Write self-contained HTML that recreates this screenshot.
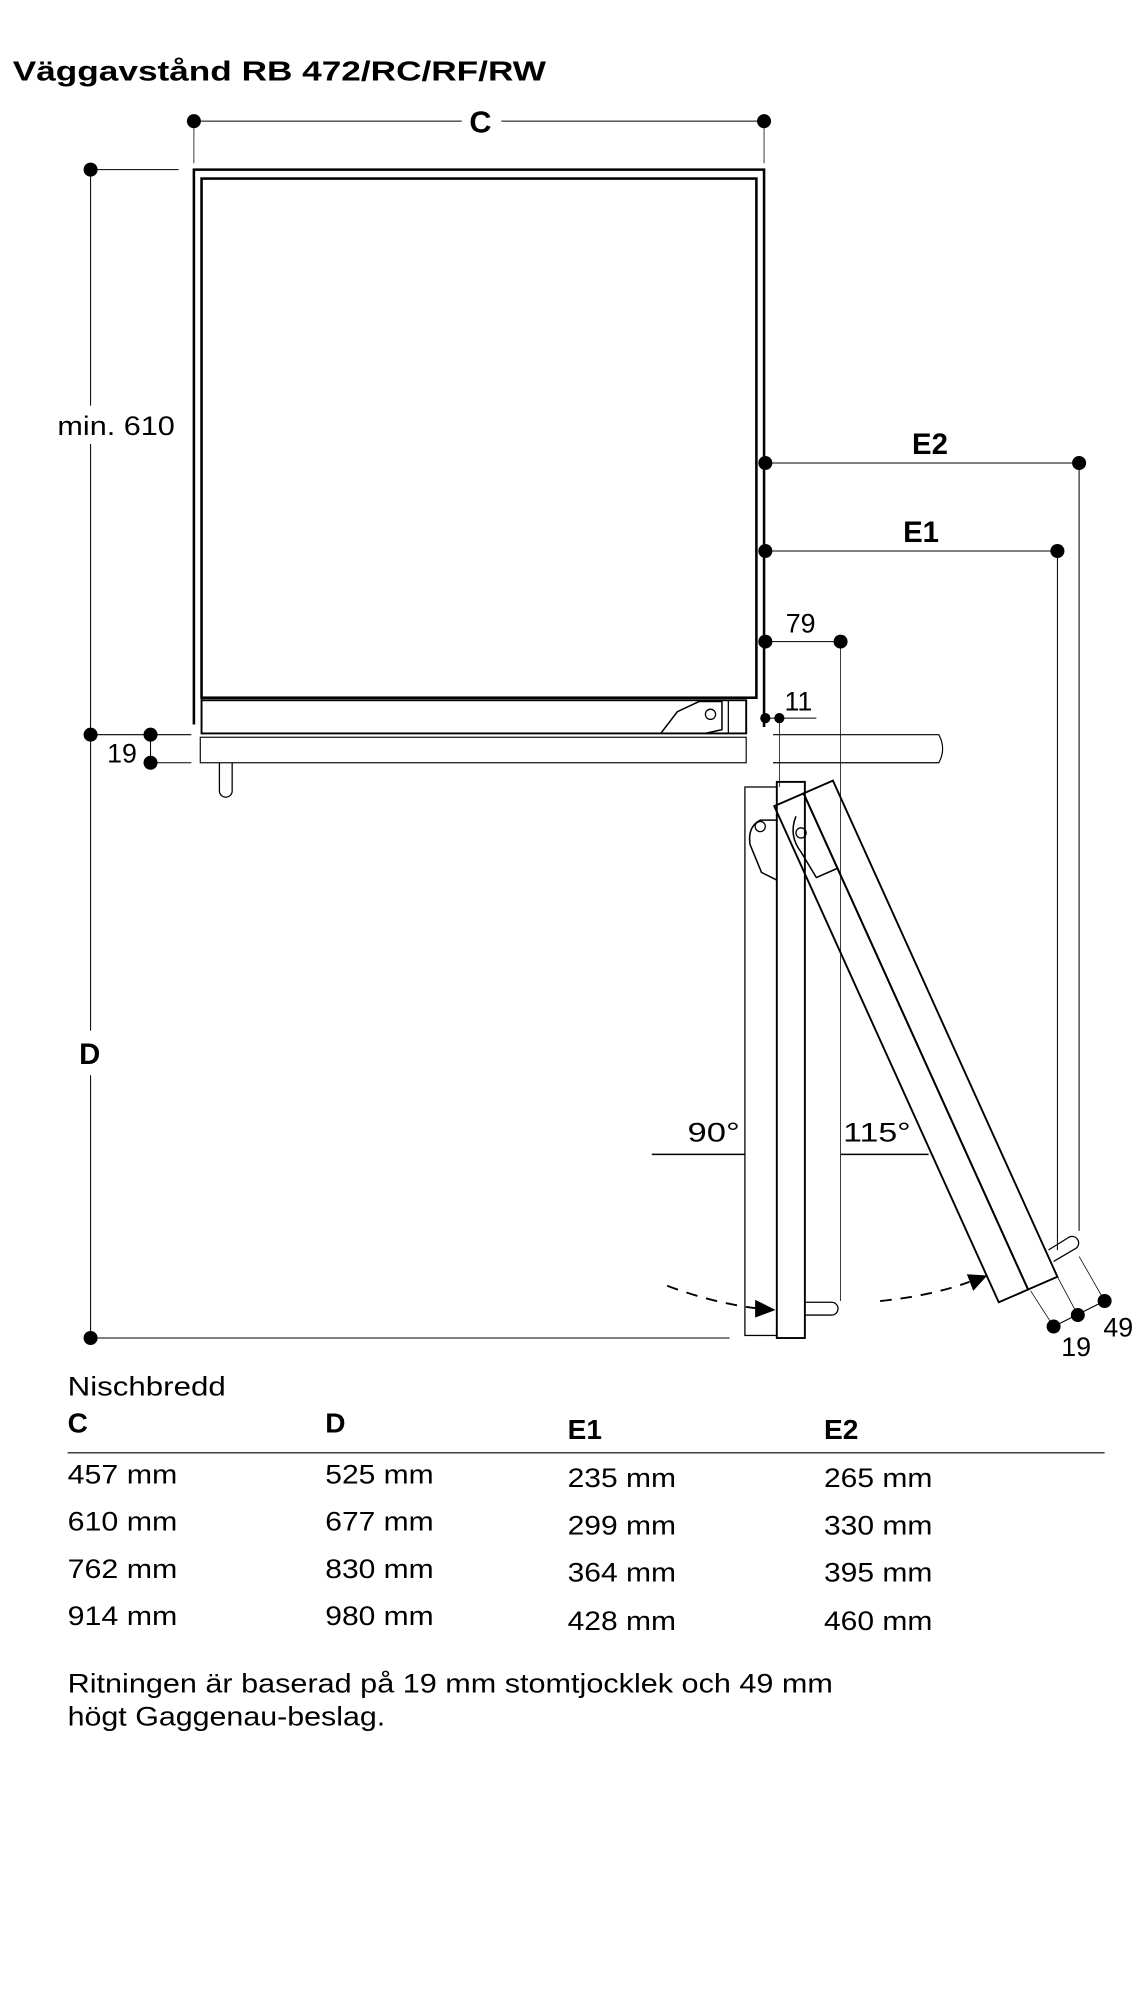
<!DOCTYPE html>
<html><head><meta charset="utf-8"><style>
html,body{margin:0;padding:0;background:#fff;}
svg{display:block;}
text{font-family:"Liberation Sans",sans-serif;fill:#000;}
</style></head><body>
<svg width="1148" height="2000" viewBox="0 0 900 1568" xmlns="http://www.w3.org/2000/svg">
<g fill="none" stroke="#000">
<line x1="152" y1="95" x2="362" y2="95" stroke-width="0.8"/>
<line x1="393" y1="95" x2="599" y2="95" stroke-width="0.8"/>
<line x1="152" y1="95" x2="152" y2="128" stroke-width="0.6"/>
<line x1="599" y1="95" x2="599" y2="128" stroke-width="0.6"/>
<line x1="71" y1="133" x2="140" y2="133" stroke-width="0.8"/>
<line x1="71" y1="133" x2="71" y2="318" stroke-width="0.8"/>
<line x1="71" y1="348" x2="71" y2="808" stroke-width="0.8"/>
<line x1="71" y1="843" x2="71" y2="1049" stroke-width="0.8"/>
<line x1="71" y1="576" x2="150" y2="576" stroke-width="0.8"/>
<line x1="118" y1="598" x2="150" y2="598" stroke-width="0.8"/>
<line x1="118" y1="576" x2="118" y2="598" stroke-width="0.8"/>
<line x1="71" y1="1049" x2="572" y2="1049" stroke-width="0.8"/>
<polyline points="152,568 152,133 599,133 599,570" stroke-width="2"/>
<rect x="158" y="140" width="435" height="407" stroke-width="2"/>
<line x1="158" y1="547" x2="158" y2="575" stroke-width="1"/>
<rect x="158" y="549" width="427" height="26" stroke-width="1.5"/>
<line x1="571" y1="549" x2="571" y2="575" stroke-width="1"/>
<path d="M518,575 L531,558 L548,550 L566,550 L566,572 L553,575" stroke-width="1.2"/>
<circle cx="557" cy="560" r="4" stroke-width="1"/>
<rect x="157" y="578" width="428" height="20" stroke-width="0.9"/>
<path d="M172,598 L172,620 A5,5 0 0 0 182,620 L182,598" stroke-width="1"/>
<path d="M606,576 L736,576 Q742,587 736,598 L606,598" stroke-width="0.9"/>
<line x1="600" y1="363" x2="846" y2="363" stroke-width="0.8"/>
<line x1="846" y1="363" x2="846" y2="965" stroke-width="0.8"/>
<line x1="600" y1="432" x2="829" y2="432" stroke-width="0.8"/>
<line x1="829" y1="432" x2="829" y2="980" stroke-width="0.8"/>
<line x1="600" y1="503" x2="659" y2="503" stroke-width="0.8"/>
<line x1="659" y1="503" x2="659" y2="1020" stroke-width="0.6"/>
<line x1="600" y1="563" x2="640" y2="563" stroke-width="0.8"/>
<line x1="611" y1="563" x2="611" y2="617" stroke-width="0.6"/>
<rect x="584" y="617" width="25" height="430" stroke-width="1"/>
<rect x="609" y="613" width="22" height="436" stroke-width="1.5"/>
<path d="M609,643 L596,643 Q586,648 588,662 L597,684 L609,690" stroke-width="1.2"/>
<circle cx="596" cy="648" r="4" stroke-width="1"/>
<path d="M631,1021 L652,1021 A5,5 0 0 1 652,1031 L631,1031" stroke-width="1"/>
<polygon points="607,632 630,622 806,1011 783,1021" stroke-width="1.5"/>
<polygon points="630,622 653,612 829,1001 806,1011" stroke-width="1.5"/>
<path d="M624,640 Q618,655 628,668 L640,688 L656,681" stroke-width="1.2"/>
<circle cx="628" cy="653" r="4" stroke-width="1"/>
<path d="M822,980 L838,970 A5,5 0 0 1 843,979 L826,989" stroke-width="1"/>
<line x1="808" y1="1012" x2="826" y2="1040" stroke-width="0.6"/>
<line x1="829" y1="1001" x2="845" y2="1031" stroke-width="0.6"/>
<line x1="846" y1="985" x2="866" y2="1020" stroke-width="0.6"/>
<line x1="826" y1="1040" x2="866" y2="1020" stroke-width="0.9"/>
<line x1="511" y1="905" x2="584" y2="905" stroke-width="1.2"/>
<line x1="659" y1="905" x2="728" y2="905" stroke-width="1.2"/>
<path d="M523,1008 Q560,1022 596,1026" stroke-width="1.5" stroke-dasharray="9,7"/>
<path d="M690,1020 Q730,1016 760,1005" stroke-width="1.5" stroke-dasharray="9,7"/>
<line x1="53" y1="1139" x2="866" y2="1139" stroke-width="0.8"/>
</g>
<g fill="#000">
<polygon points="608,1027 592,1019 592,1033"/>
<polygon points="774,1000 758,999 763,1012"/>
<circle cx="152" cy="95" r="5.5"/><circle cx="599" cy="95" r="5.5"/>
<circle cx="71" cy="133" r="5.5"/><circle cx="71" cy="576" r="5.5"/><circle cx="71" cy="1049" r="5.5"/>
<circle cx="118" cy="576" r="5.5"/><circle cx="118" cy="598" r="5.5"/>
<circle cx="600" cy="363" r="5.5"/><circle cx="846" cy="363" r="5.5"/>
<circle cx="600" cy="432" r="5.5"/><circle cx="829" cy="432" r="5.5"/>
<circle cx="600" cy="503" r="5.5"/><circle cx="659" cy="503" r="5.5"/>
<circle cx="600" cy="563" r="4"/><circle cx="611" cy="563" r="4"/>
<circle cx="826" cy="1040" r="5.5"/><circle cx="845" cy="1031" r="5.5"/><circle cx="866" cy="1020" r="5.5"/>
</g>
<g lengthAdjust="spacingAndGlyphs">
<text x="10" y="63" font-size="22" font-weight="bold" textLength="418" lengthAdjust="spacingAndGlyphs">Väggavstånd RB 472/RC/RF/RW</text>
<text x="368" y="104" font-size="24" font-weight="bold">C</text>
<text x="45" y="341" font-size="21" textLength="92" lengthAdjust="spacingAndGlyphs">min. 610</text>
<text x="62" y="834" font-size="23" font-weight="bold">D</text>
<text x="84" y="598" font-size="21">19</text>
<text x="715" y="356" font-size="23" font-weight="bold">E2</text>
<text x="708" y="425" font-size="23" font-weight="bold">E1</text>
<text x="616" y="496" font-size="21">79</text>
<text x="615" y="557" font-size="21">11</text>
<text x="539" y="895" font-size="21" textLength="41" lengthAdjust="spacingAndGlyphs">90°</text>
<text x="661" y="895" font-size="21" textLength="53" lengthAdjust="spacingAndGlyphs">115°</text>
<text x="832" y="1063" font-size="21">19</text>
<text x="865" y="1048" font-size="21">49</text>
<text x="53" y="1094" font-size="21" textLength="124" lengthAdjust="spacingAndGlyphs">Nischbredd</text>
<text x="53" y="1123" font-size="22" font-weight="bold">C</text>
<text x="255" y="1123" font-size="22" font-weight="bold">D</text>
<text x="445" y="1128" font-size="22" font-weight="bold">E1</text>
<text x="646" y="1128" font-size="22" font-weight="bold">E2</text>
</g>
<g font-size="21">
<text x="53" y="1163" textLength="86" lengthAdjust="spacingAndGlyphs">457 mm</text><text x="255" y="1163" textLength="85" lengthAdjust="spacingAndGlyphs">525 mm</text><text x="445" y="1166" textLength="85" lengthAdjust="spacingAndGlyphs">235 mm</text><text x="646" y="1166" textLength="85" lengthAdjust="spacingAndGlyphs">265 mm</text>
<text x="53" y="1200" textLength="86" lengthAdjust="spacingAndGlyphs">610 mm</text><text x="255" y="1200" textLength="85" lengthAdjust="spacingAndGlyphs">677 mm</text><text x="445" y="1203" textLength="85" lengthAdjust="spacingAndGlyphs">299 mm</text><text x="646" y="1203" textLength="85" lengthAdjust="spacingAndGlyphs">330 mm</text>
<text x="53" y="1237" textLength="86" lengthAdjust="spacingAndGlyphs">762 mm</text><text x="255" y="1237" textLength="85" lengthAdjust="spacingAndGlyphs">830 mm</text><text x="445" y="1240" textLength="85" lengthAdjust="spacingAndGlyphs">364 mm</text><text x="646" y="1240" textLength="85" lengthAdjust="spacingAndGlyphs">395 mm</text>
<text x="53" y="1274" textLength="86" lengthAdjust="spacingAndGlyphs">914 mm</text><text x="255" y="1274" textLength="85" lengthAdjust="spacingAndGlyphs">980 mm</text><text x="445" y="1278" textLength="85" lengthAdjust="spacingAndGlyphs">428 mm</text><text x="646" y="1278" textLength="85" lengthAdjust="spacingAndGlyphs">460 mm</text>
<text x="53" y="1327" textLength="600" lengthAdjust="spacingAndGlyphs">Ritningen är baserad på 19 mm stomtjocklek och 49 mm</text>
<text x="53" y="1353" textLength="249" lengthAdjust="spacingAndGlyphs">högt Gaggenau-beslag.</text>
</g>
</svg>
</body></html>
